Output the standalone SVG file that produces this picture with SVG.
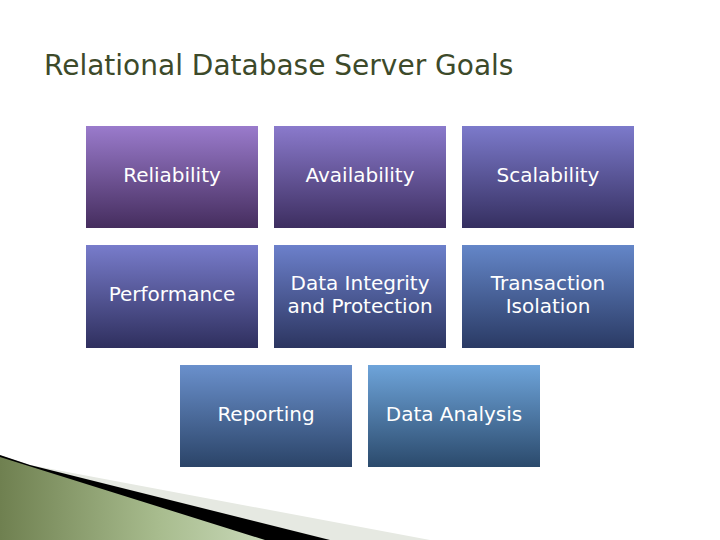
<svg xmlns="http://www.w3.org/2000/svg" width="720" height="540" viewBox="0 0 720 540">
<defs>
<linearGradient id="g1" x1="0" y1="0" x2="0" y2="1"><stop offset="0" stop-color="#9a7bcc"/><stop offset="1" stop-color="#452d5e"/></linearGradient>
<linearGradient id="g2" x1="0" y1="0" x2="0" y2="1"><stop offset="0" stop-color="#8a7acc"/><stop offset="1" stop-color="#3d2e60"/></linearGradient>
<linearGradient id="g3" x1="0" y1="0" x2="0" y2="1"><stop offset="0" stop-color="#7c7acb"/><stop offset="1" stop-color="#352f60"/></linearGradient>
<linearGradient id="g4" x1="0" y1="0" x2="0" y2="1"><stop offset="0" stop-color="#787ccb"/><stop offset="1" stop-color="#2f2f5e"/></linearGradient>
<linearGradient id="g5" x1="0" y1="0" x2="0" y2="1"><stop offset="0" stop-color="#6c80cb"/><stop offset="1" stop-color="#2c3560"/></linearGradient>
<linearGradient id="g6" x1="0" y1="0" x2="0" y2="1"><stop offset="0" stop-color="#6486c8"/><stop offset="1" stop-color="#2a3a64"/></linearGradient>
<linearGradient id="g7" x1="0" y1="0" x2="0" y2="1"><stop offset="0" stop-color="#6a90cc"/><stop offset="1" stop-color="#2b4468"/></linearGradient>
<linearGradient id="g8" x1="0" y1="0" x2="0" y2="1"><stop offset="0" stop-color="#6ea4da"/><stop offset="1" stop-color="#2b4a6c"/></linearGradient>
<linearGradient id="gg" x1="0" y1="0" x2="1" y2="0"><stop offset="0" stop-color="#6f8050"/><stop offset="0.6" stop-color="#a8bc8e"/><stop offset="1" stop-color="#c8d8b8"/></linearGradient>
</defs>
<style>
.t{font-family:"DejaVu Sans",sans-serif;font-size:20px;fill:#fff;text-anchor:middle}
</style>
<rect width="720" height="540" fill="#fff"/>
<polygon points="0,455 30,465 430,540 0,540" fill="#e6e9e2"/>
<polygon points="0,455 30,465 330,540 0,540" fill="#000"/>
<polygon points="0,457 265,540 0,540" fill="url(#gg)"/>
<text x="44" y="75" font-family="'DejaVu Sans',sans-serif" font-size="28" fill="#3d4a2a">Relational Database Server Goals</text>
<g id="n1"><rect x="86" y="126" width="172" height="102" fill="url(#g1)"/><text class="t" x="172" y="182">Reliability</text></g>
<g id="n2"><rect x="274" y="126" width="172" height="102" fill="url(#g2)"/><text class="t" x="360" y="182">Availability</text></g>
<g id="n3"><rect x="462" y="126" width="172" height="102" fill="url(#g3)"/><text class="t" x="548" y="182">Scalability</text></g>
<g id="n4"><rect x="86" y="245" width="172" height="103" fill="url(#g4)"/><text class="t" x="172" y="301">Performance</text></g>
<g id="n5"><rect x="274" y="245" width="172" height="103" fill="url(#g5)"/><text class="t" x="360" y="290">Data Integrity</text><text class="t" x="360" y="313">and Protection</text></g>
<g id="n6"><rect x="462" y="245" width="172" height="103" fill="url(#g6)"/><text class="t" x="548" y="290">Transaction</text><text class="t" x="548" y="313">Isolation</text></g>
<g id="n7"><rect x="180" y="365" width="172" height="102" fill="url(#g7)"/><text class="t" x="266" y="421">Reporting</text></g>
<g id="n8"><rect x="368" y="365" width="172" height="102" fill="url(#g8)"/><text class="t" x="454" y="421">Data Analysis</text></g>
<g id="connectors"/>
</svg>
